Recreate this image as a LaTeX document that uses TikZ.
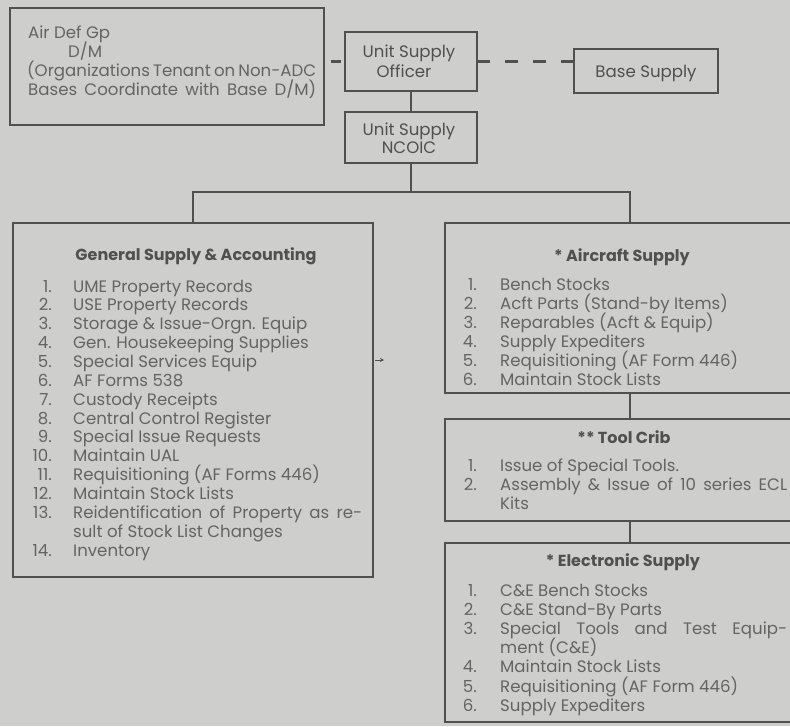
\documentclass[tikz,border=0pt]{standalone}
\usepackage{fontspec}
\setmainfont{Poppins}
\usetikzlibrary{arrows.meta}
\definecolor{bgc}{RGB}{206,206,204}
\definecolor{textc}{RGB}{100,100,100}
\definecolor{titlec}{RGB}{80,80,80}
\definecolor{linec}{RGB}{80,80,80}
\newcommand{\itemfont}{\fontsize{16.6}{19}\selectfont}
\newcommand{\titlefont}{\fontsize{16}{19}\selectfont\bfseries}
\newcommand{\jline}[2]{\hbox to #1{#2}}
\tikzset{
  box/.style={draw=linec, line width=1.3pt, rectangle, inner sep=0pt, outer sep=0pt},
  txt/.style={anchor=base west, inner sep=0pt, text=textc, font=\itemfont},
  num/.style={anchor=base east, inner sep=0pt, text=textc, font=\itemfont},
  ctxt/.style={anchor=base, inner sep=0pt, text=titlec, font=\itemfont},
  ttl/.style={anchor=base, inner sep=0pt, text=titlec, font=\titlefont},
  conn/.style={draw=linec, line width=1.8pt},
  dconn/.style={draw=linec, line width=2.2pt},
}
\begin{document}
\begin{tikzpicture}[x=1pt,y=-1pt]
\useasboundingbox (0,0) rectangle (790,726);
\fill[bgc] (0,0) rectangle (790,726);
\clip (0,0) rectangle (790,726);

% boxes
\node[box, minimum width=314pt, minimum height=117pt] (airdef) at (167,66.5) {};
\node[box, minimum width=132pt, minimum height=59pt] (officer) at (411,61.5) {};
\node[box, minimum width=144pt, minimum height=44pt] (base) at (646,71) {};
\node[box, minimum width=132pt, minimum height=51pt] (ncoic) at (411,137.5) {};
\node[box, minimum width=360pt, minimum height=354pt] (general) at (193,400) {};
\node[box, minimum width=370pt, minimum height=170pt] (aircraft) at (630,308) {};
\node[box, minimum width=370pt, minimum height=102pt] (toolcrib) at (630,470) {};
\node[box, minimum width=370pt, minimum height=179pt] (electronic) at (630,632.5) {};

% connectors
\draw[dconn, dash pattern=on 10pt off 8pt, dash phase=11pt] (airdef.east |- officer.west) -- (officer.west);
\draw[dconn, dash pattern=on 13pt off 15pt] (officer.east) -- (officer.east -| base.west);
\draw[conn] (officer.south) -- (ncoic.north);
\coordinate (bus) at (411,192);
\draw[conn] (ncoic.south) -- (bus);
\draw[conn] (general.north) |- (bus) -| (aircraft.north);
\draw[conn] (aircraft.south) -- (toolcrib.north);
\draw[conn] (toolcrib.south) -- (electronic.north);
\coordinate (gmark) at (375,360);
\draw[linec, line width=1pt, -{Stealth[length=4pt,width=4pt]}] (gmark) -- ++(9,0);

% Air Def text
\node[txt] (ad1) at (28,38) {Air Def Gp};
\node[txt] (ad2) at (68,57) {D/M};
\node[txt] (ad3) at (27,76) {\jline{289pt}{(Organizations Tenant on Non-ADC}};
\node[txt] (ad4) at (28,95) {\jline{288pt}{Bases Coordinate with Base D/M)}};

% officer / ncoic / base
\node[ctxt] (of1) at (409,57) {Unit Supply};
\node[ctxt] (of2) at (404,77) {Officer};
\node[ctxt] (nc1) at (409,135) {Unit Supply};
\node[ctxt] (nc2) at (409,153) {NCOIC};
\node[ctxt] (bs1) at (646,77) {Base Supply};

% General supply
\node[ttl] (gt) at (196,260) {General Supply \& Accounting};
\foreach \n/\t [count=\i from 0] in {
  1./UME Property Records,
  2./USE Property Records,
  3./Storage \& Issue-Orgn. Equip,
  4./Gen. Housekeeping Supplies,
  5./Special Services Equip,
  6./AF Forms 538,
  7./Custody Receipts,
  8./Central Control Register,
  9./Special Issue Requests,
  10./Maintain UAL,
  11./Requisitioning (AF Forms 446),
  12./Maintain Stock Lists,
  13./{\jline{289pt}{Reidentification of Property as re-}},
  /sult of Stock List Changes,
  14./Inventory}
{
  \node[num] (gn\i) at (52,{292+18.86*\i}) {\n};
  \node[txt] (gi\i) at (73,{292+18.86*\i}) {\t};
}

% Aircraft supply
\node[ttl] (at) at (622,261) {* Aircraft Supply};
\foreach \n/\t [count=\i from 0] in {
  1./Bench Stocks,
  2./Acft Parts (Stand-by Items),
  3./Reparables (Acft \& Equip),
  4./Supply Expediters,
  5./Requisitioning (AF Form 446),
  6./Maintain Stock Lists}
{
  \node[num] (an\i) at (477,{290+19*\i}) {\n};
  \node[txt] (ai\i) at (500,{290+19*\i}) {\t};
}

% Tool crib
\node[ttl] (tt) at (624,443) {** Tool Crib};
\node[num] (tn0) at (477,471) {1.};
\node[txt] (ti0) at (500,471) {Issue of Special Tools.};
\node[num] (tn1) at (477,490) {2.};
\node[txt] (ti1) at (500,490) {\jline{287pt}{Assembly \& Issue of 10 series ECL}};
\node[txt] (ti2) at (500,509) {Kits};

% Electronic supply
\node[ttl] (et) at (623,566) {* Electronic Supply};
\foreach \n/\t [count=\i from 0] in {
  1./C\&E Bench Stocks,
  2./C\&E Stand-By Parts,
  3./{\jline{287pt}{Special Tools and Test Equip-}},
  /ment (C\&E),
  4./Maintain Stock Lists,
  5./Requisitioning (AF Form 446),
  6./Supply Expediters}
{
  \node[num] (en\i) at (477,{596+19.2*\i}) {\n};
  \node[txt] (ei\i) at (500,{596+19.2*\i}) {\t};
}
\end{tikzpicture}
\end{document}
